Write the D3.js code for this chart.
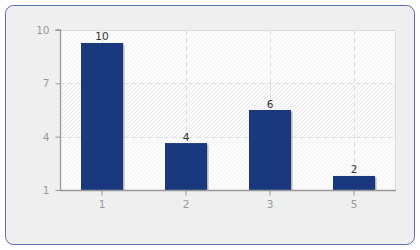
<!DOCTYPE html>
<html><head><meta charset="utf-8">
<script src="https://cdn.jsdelivr.net/npm/d3@7/dist/d3.min.js"></script>
<style>html,body{margin:0;padding:0;background:#fff;}svg{display:block;font-family:"DejaVu Sans",Verdana,sans-serif;}</style>
</head><body>
<svg id="c" width="420" height="250"></svg>
<script>
const categories = ["1", "2", "3", "5"];
const values = [9.27, 3.64, 5.5, 1.79];
const valueLabels = ["10", "4", "6", "2"];
const yTicks = [1, 4, 7, 10];

const svg = d3.select("#c");
const m = {l: 60, r: 24, t: 30, b: 60};
const W = 420, H = 250;

svg.append("rect").attr("x", 5.5).attr("y", 5.5).attr("width", 409).attr("height", 239)
  .attr("rx", 8).attr("fill", "#efefef").attr("stroke", "#5b6fa6").attr("stroke-width", 1);

const x = d3.scaleBand().domain(categories).range([m.l, W - m.r]).paddingInner(0.5).paddingOuter(0.25);
const y = d3.scaleLinear().domain([1, 10]).range([H - m.b, m.t]);

const defs = svg.append("defs");
function hatch(id, bg, line) {
  const p = defs.append("pattern").attr("id", id).attr("patternUnits", "userSpaceOnUse")
    .attr("width", 4).attr("height", 4);
  p.append("rect").attr("width", 4).attr("height", 4).attr("fill", bg);
  p.append("path").attr("d", "M-1,1 l2,-2 M0,4 l4,-4 M3,5 l2,-2").attr("stroke", line).attr("stroke-width", 0.8);
}
hatch("h1", "#fcfcfc", "#f1f1f1");
hatch("h2", "#f9f9f9", "#e6e6e6");

const x0 = m.l, x1 = W - m.r;
// bands
for (let i = 0; i < yTicks.length - 1; i++) {
  svg.append("rect").attr("x", x0).attr("width", x1 - x0)
    .attr("y", y(yTicks[i + 1])).attr("height", y(yTicks[i]) - y(yTicks[i + 1]))
    .attr("fill", i === 1 ? "url(#h2)" : "url(#h1)");
}
// plot border
svg.append("rect").attr("x", x0 + 0.5).attr("y", m.t + 0.5).attr("width", x1 - x0 - 1).attr("height", y(1) - m.t)
  .attr("fill", "none").attr("stroke", "#dddddd");

// grid
const g = svg.append("g");
g.selectAll("line.h").data(yTicks.filter(t => t !== 1 && t !== 10)).join("line")
  .attr("x1", x0).attr("x2", x1).attr("y1", d => Math.round(y(d)) + 0.5).attr("y2", d => Math.round(y(d)) + 0.5)
  .attr("stroke", "#dedede").attr("stroke-dasharray", "5,3");
g.selectAll("line.v").data(categories).join("line")
  .attr("x1", d => Math.round(x(d) + x.bandwidth() / 2) + 0.5).attr("x2", d => Math.round(x(d) + x.bandwidth() / 2) + 0.5)
  .attr("y1", m.t).attr("y2", y(1))
  .attr("stroke", "#dedede").attr("stroke-dasharray", "5,3");

// bars
const bars = svg.append("g");
bars.selectAll("rect.s").data(values).join("rect")
  .attr("x", (d, i) => x(categories[i]) + 1.5).attr("y", d => y(d) + 1.5)
  .attr("width", x.bandwidth()).attr("height", d => y(1) - y(d) - 1.5)
  .attr("fill", "#8a8a8a").attr("opacity", 0.6);
bars.selectAll("rect.b").data(values).join("rect")
  .attr("x", (d, i) => x(categories[i])).attr("y", d => y(d))
  .attr("width", x.bandwidth()).attr("height", d => y(1) - y(d))
  .attr("fill", "#1a387e");
bars.selectAll("text").data(values).join("text")
  .attr("x", (d, i) => x(categories[i]) + x.bandwidth() / 2).attr("y", d => y(d) - 2.5)
  .attr("text-anchor", "middle").attr("font-size", 10.5).attr("fill", "#333")
  .text((d, i) => valueLabels[i]);

// axes
const ya = svg.append("g").attr("transform", `translate(${x0 + 0.5},0)`)
  .call(d3.axisLeft(y).tickValues(yTicks).tickSize(5).tickPadding(6).tickFormat(d3.format("d")));
const xa = svg.append("g").attr("transform", `translate(0,${y(1) + 0.5})`)
  .call(d3.axisBottom(x).tickSize(5).tickPadding(5));
[ya, xa].forEach(a => {
  a.select(".domain").attr("stroke", "#999").attr("stroke-width", 1.3);
  a.selectAll(".tick line").attr("stroke", "#999");
  a.selectAll(".tick text").attr("fill", "#999").attr("font-size", 10.5).attr("font-family", '"DejaVu Sans",Verdana,sans-serif');
});
ya.select(".domain").attr("d", `M-5,${y(10)}H0V${y(1)}`);
xa.select(".domain").attr("d", `M${x0},0H${x1}`);
</script>
</body></html>
